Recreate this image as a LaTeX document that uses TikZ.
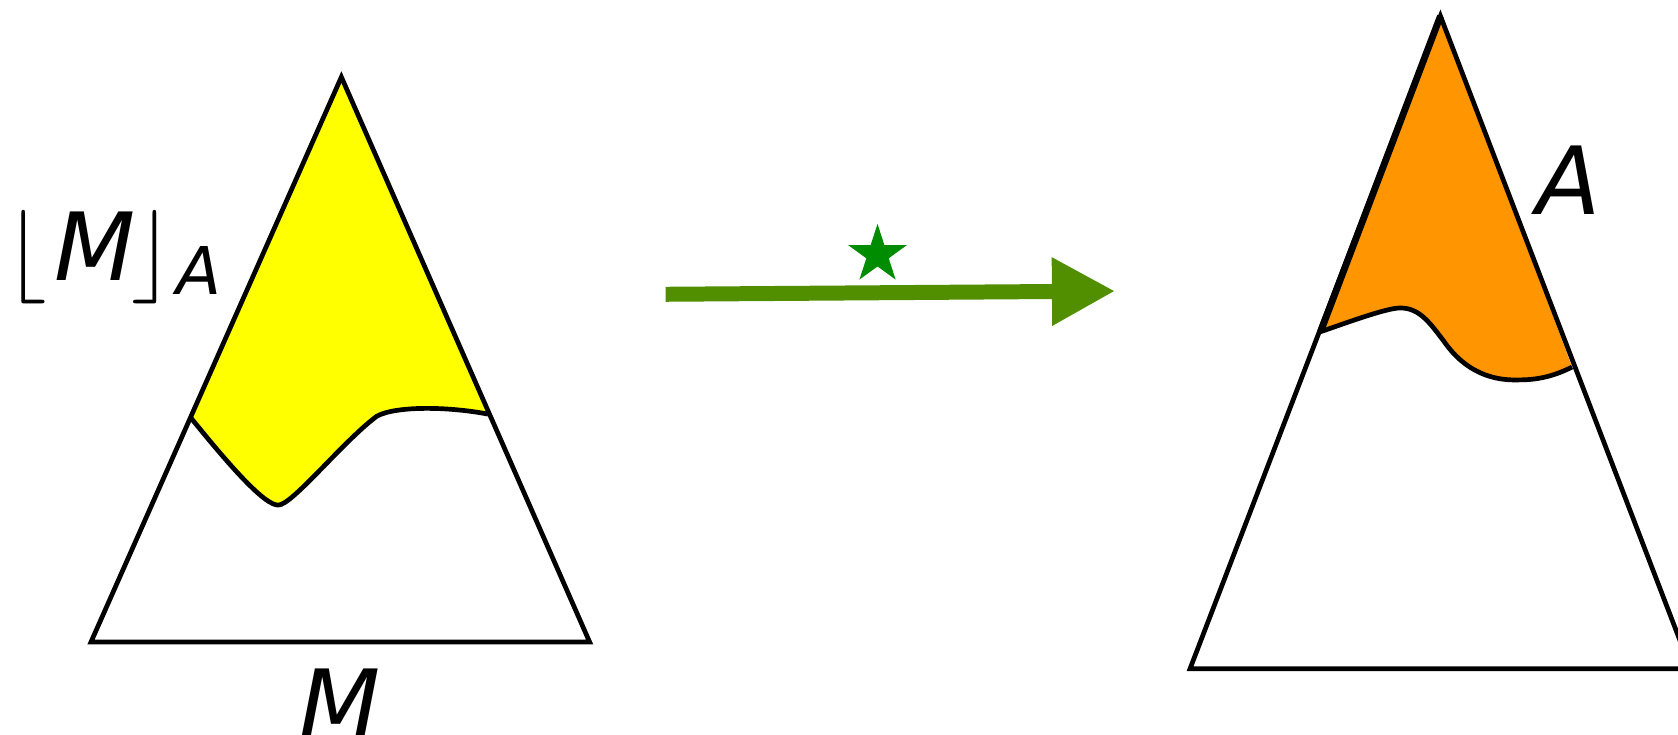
\documentclass[tikz,border=0pt]{standalone}
\usepackage{fontspec}
\newfontfamily\dvs{DejaVu Sans}
\usetikzlibrary{arrows.meta,shapes.geometric}
\definecolor{myyellow}{HTML}{FFFF00}
\definecolor{myorange}{HTML}{FF9500}
\definecolor{arrowgreen}{HTML}{528F00}
\definecolor{stargreen}{HTML}{008C00}
\tikzset{
  edge/.style={draw=black,line width=1.25pt},
  biglbl/.style={font=\fontsize{25}{30}\selectfont,inner sep=0pt},
  sublbl/.style={font=\dvs\fontsize{17.5}{21}\selectfont,inner sep=0pt}
}
\begin{document}
\begin{tikzpicture}[x=0.01cm,y=-0.01cm]
\useasboundingbox (0,0) rectangle (1568,686);
% ---------- left triangle ----------
\coordinate (LT) at (319,72);
\coordinate (LBL) at (85,600);
\coordinate (LBR) at (551,600);
\coordinate (LP) at (178,390);
\coordinate (RP) at (456,387);
\fill[myyellow] (LP) -- (LT) -- (RP)
  .. controls (420,380) and (370,379) .. (352,389)
  .. controls (320,413) and (273,472) .. (260,472)
  .. controls (248,472) and (220,442) .. (LP) -- cycle;
\draw[edge] (LP) .. controls (220,442) and (248,472) .. (260,472)
  .. controls (273,472) and (320,413) .. (352,389)
  .. controls (370,379) and (420,380) .. (RP);
\draw[edge,line join=miter] (LT) -- (LBL) -- (LBR) -- cycle;
\node[biglbl,anchor=base west] (lfl) at (4,262) {$\lfloor$\kern2pt{\dvs\itshape M}\kern-1pt$\rfloor$};
\node[sublbl,anchor=base west] (sa) at (164,275) {\itshape A};
\node[biglbl,anchor=base] (bm) at (318,689) {\dvs\itshape M};
% ---------- arrow ----------
\coordinate (as) at (622,275);
\coordinate (ae) at (1042,272);
\draw[arrowgreen,line width=0.14cm,-{Triangle[length=0.59cm,width=0.6cm]}] (as) -- (ae);
\node[star,star points=5,star point ratio=2.618,fill=stargreen,inner sep=0pt,minimum size=0.575cm] (st) at (820,238) {};
% ---------- right triangle ----------
\coordinate (RT) at (1346,15);
\coordinate (RBL) at (1112,625);
\coordinate (RBR) at (1580,625);
\coordinate (OL) at (1234,310);
\coordinate (OR) at (1469,343);
\fill[myorange] (OL) -- (RT) -- (OR)
  .. controls (1455,350) and (1440,355) .. (1420,355)
  .. controls (1395,356) and (1370,348) .. (1350,320)
  .. controls (1335,300) and (1325,286) .. (1305,288)
  .. controls (1290,290) and (1260,301) .. (OL) -- cycle;
\draw[edge] (OL) .. controls (1260,301) and (1290,290) .. (1305,288)
  .. controls (1325,286) and (1335,300) .. (1350,320)
  .. controls (1370,348) and (1395,356) .. (1420,355)
  .. controls (1440,355) and (1455,350) .. (OR);
\draw[edge] (RT) -- (RBL) -- (RBR) -- cycle;
\draw[draw=black,line width=1.8pt] (RT) -- (OL);
\node[biglbl,anchor=base] (ra) at (1466,200) {\dvs\itshape A};
\end{tikzpicture}
\end{document}
